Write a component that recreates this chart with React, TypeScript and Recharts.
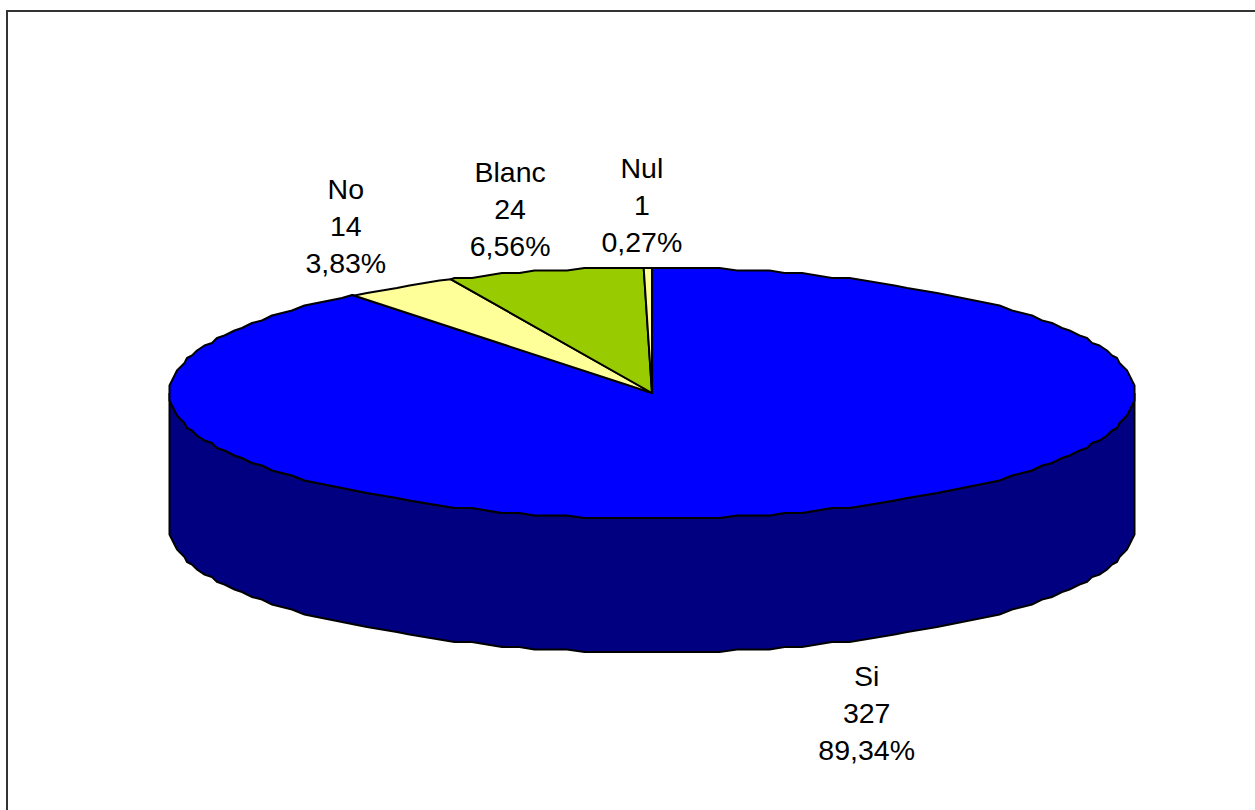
import { PieChart, Pie, Cell } from "recharts";

const categories = ["Si", "No", "Blanc", "Nul"];
const votes = [327, 14, 24, 1];
const percents = ["89,34%", "3,83%", "6,56%", "0,27%"];
const topColors = ["#0000ff", "#ffff99", "#99cc00", "#ffff99"];
const wallColors = ["#000080", "#80804d", "#4d6600", "#80804d"];
// label anchor, relative to the point on the ellipse at the slice's mid angle
const labelOffsets = [
  [56, 175],
  [-54, -87],
  [-35, -89],
  [-6, -90],
];

const data = categories.map((name, i) => ({ name, value: votes[i], percent: percents[i] }));

const CX = 652;
const CY = 393;
const RX = 483;
const SQUASH = 125 / 483;
const DEPTH = 134;
const GRID = 2.5;
const STEP = 2;
const RAD = Math.PI / 180;

// the original outline is a coarse polygon snapped to a low-res grid
const snap = (v: number) => Math.round(v / GRID) * GRID;

function rimPoints(cx: number, cy: number, r: number, from: number, to: number, dy = 0) {
  const lo = Math.min(from, to);
  const hi = Math.max(from, to);
  const angles = [lo];
  for (let a = Math.ceil(lo / STEP + 0.01) * STEP; a < hi; a += STEP) angles.push(a);
  angles.push(hi);
  if (from > to) angles.reverse();
  return angles.map((deg, i) => {
    const a = deg * RAD;
    const edge = (i === 0 || i === angles.length - 1) && deg % STEP !== 0;
    const dx = r * Math.cos(a);
    const dyy = r * SQUASH * Math.sin(a);
    const x = cx + (edge ? dx : snap(dx));
    const y = cy - (edge ? dyy : snap(dyy)) + dy;
    return `${x.toFixed(1)},${y.toFixed(1)}`;
  });
}

function TopSlice(props: any) {
  const { cx, cy, outerRadius, startAngle, endAngle, fill } = props;
  const pts = rimPoints(cx, cy, outerRadius, startAngle, endAngle);
  return (
    <polygon
      points={[`${cx},${cy}`, ...pts].join(" ")}
      fill={fill}
      stroke="#000"
      strokeWidth={2}
      strokeLinejoin="round"
    />
  );
}

function WallSlice(props: any) {
  const { cx, cy, outerRadius, startAngle, endAngle, fill } = props;
  // only the front half of the rim shows a wall
  const hi = Math.min(startAngle, 0);
  const lo = Math.max(endAngle, -180);
  if (lo >= hi) return null;
  const top = rimPoints(cx, cy, outerRadius, hi, lo);
  const bottom = rimPoints(cx, cy, outerRadius, lo, hi, DEPTH);
  return <polygon points={[...top, ...bottom].join(" ")} fill={fill} stroke="#000" strokeWidth={2} />;
}

function SliceLabel(props: any) {
  const { cx, cy, outerRadius, midAngle, index } = props;
  const a = midAngle * RAD;
  const x = cx + outerRadius * Math.cos(a) + labelOffsets[index][0];
  const y = cy - outerRadius * SQUASH * Math.sin(a) + labelOffsets[index][1];
  return (
    <text x={x} y={y} textAnchor="middle" fill="#000" fontFamily="Liberation Sans" fontSize={28.5}>
      <tspan x={x}>{categories[index]}</tspan>
      <tspan x={x} dy={37}>
        {votes[index]}
      </tspan>
      <tspan x={x} dy={37}>
        {percents[index]}
      </tspan>
    </text>
  );
}

export default function App() {
  return (
    <div style={{ position: "absolute", left: 0, top: 0, width: 1255, height: 810, overflow: "hidden", background: "#fff" }}>
      <div
        style={{
          position: "absolute",
          left: 6,
          top: 10,
          right: 0,
          bottom: 0,
          borderLeft: "2px solid #333",
          borderTop: "2px solid #333",
        }}
      />
      <div style={{ position: "absolute", left: 0, top: 0 }}>
        <PieChart width={1255} height={810} margin={{ top: 0, right: 0, bottom: 0, left: 0 }}>
          <Pie
            data={data}
            dataKey="value"
            nameKey="name"
            cx={CX}
            cy={CY}
            outerRadius={RX}
            startAngle={90}
            endAngle={-270}
            shape={WallSlice}
            isAnimationActive={false}
          >
            {data.map((d, i) => (
              <Cell key={d.name} fill={wallColors[i]} />
            ))}
          </Pie>
          <Pie
            data={data}
            dataKey="value"
            nameKey="name"
            cx={CX}
            cy={CY}
            outerRadius={RX}
            startAngle={90}
            endAngle={-270}
            shape={TopSlice}
            label={SliceLabel}
            labelLine={false}
            isAnimationActive={false}
          >
            {data.map((d, i) => (
              <Cell key={d.name} fill={topColors[i]} />
            ))}
          </Pie>
        </PieChart>
      </div>
    </div>
  );
}
